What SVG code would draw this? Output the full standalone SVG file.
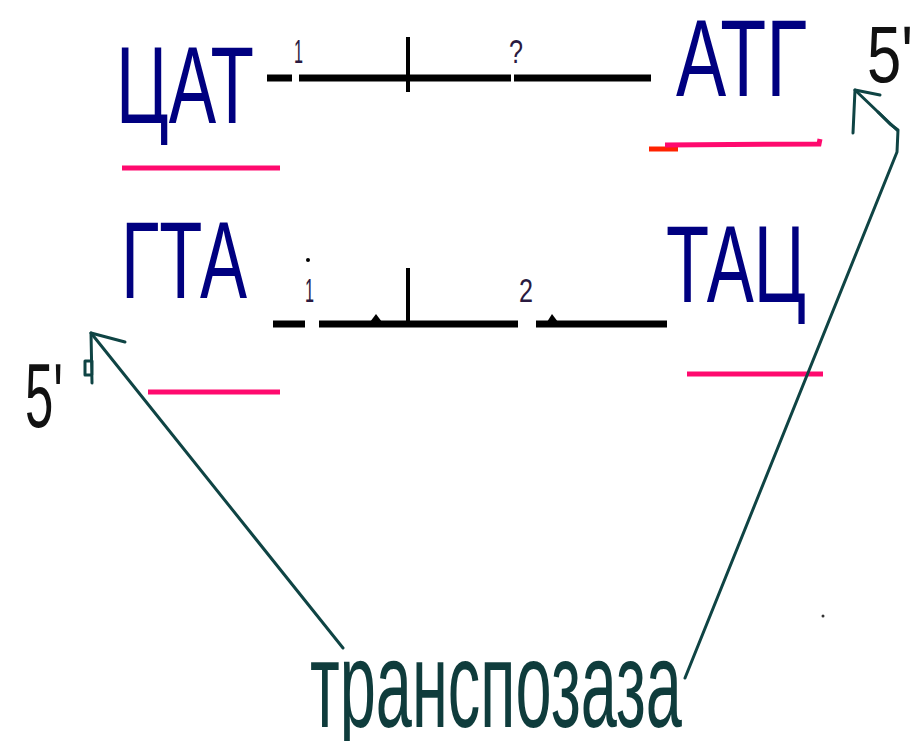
<svg xmlns="http://www.w3.org/2000/svg" width="915" height="741" viewBox="0 0 915 741">
<style>
.base{font-family:"Liberation Sans",Arial,sans-serif;fill:#000080}
.lbl{font-family:"Liberation Sans",Arial,sans-serif;fill:#2a1a40}
.blk{font-family:"Liberation Sans",Arial,sans-serif;fill:#111}
.dna{stroke:#000;stroke-width:7;fill:none}
.pink{stroke:#ff0a6e;stroke-width:5;fill:none}
.arr{stroke:#0f4444;stroke-width:3;fill:none;stroke-linejoin:round;stroke-linecap:round}
</style>
<rect width="915" height="741" fill="#fff"/>
<g id="top-strand">
<text class="base" x="116" y="123" font-size="109" textLength="138" lengthAdjust="spacingAndGlyphs">ЦАТ</text>
<line class="pink" x1="122" y1="168" x2="280" y2="168"/>
<text class="base" x="676" y="96" font-size="109" textLength="131" lengthAdjust="spacingAndGlyphs">АТГ</text>
<line x1="649" y1="149" x2="678" y2="149" stroke="#ff2200" stroke-width="5"/>
<path class="pink" d="M665 145 L819 144 L820 139"/>
<path class="dna" d="M267 78 H292 M299 78 H511 M514 78 H651"/>
<line x1="408" y1="37" x2="408" y2="92" stroke="#000" stroke-width="4"/>
<text class="lbl" x="294" y="63" font-size="34" textLength="9" lengthAdjust="spacingAndGlyphs">1</text>
<text class="lbl" x="509" y="63" font-size="34" textLength="14" lengthAdjust="spacingAndGlyphs">?</text>
</g>
<g id="bottom-strand">
<text class="base" x="121" y="298" font-size="109" textLength="126" lengthAdjust="spacingAndGlyphs">ГТА</text>
<line class="pink" x1="148" y1="392" x2="280" y2="392"/>
<text class="base" x="666" y="302" font-size="109" textLength="140" lengthAdjust="spacingAndGlyphs">ТАЦ</text>
<line class="pink" x1="687" y1="374" x2="823" y2="374"/>
<path class="dna" d="M273 324 H305 M319 324 H518 M536 324 H667"/>
<line x1="408" y1="268" x2="408" y2="324" stroke="#000" stroke-width="4"/>
<path d="M370 322 L376 314 L382 322 Z M547 322 L552 314 L558 322 Z" fill="#000"/>
<circle cx="308" cy="260" r="2" fill="#000"/>
<text class="lbl" x="305" y="302" font-size="34" textLength="9" lengthAdjust="spacingAndGlyphs">1</text>
<text class="lbl" x="519" y="302" font-size="34" textLength="14" lengthAdjust="spacingAndGlyphs">2</text>
</g>
<g id="five-prime">
<text class="blk" x="867" y="82" font-size="80" textLength="46" lengthAdjust="spacingAndGlyphs">5'</text>
<text class="blk" x="25" y="427" font-size="90" textLength="38" lengthAdjust="spacingAndGlyphs">5'</text>
</g>
<g id="connectors">
<path class="arr" d="M343 648 L91 333"/>
<path class="arr" d="M91 333 L125 342 M91 333 L92 383 M85 361 H92 V375 H85 Z"/>
<path class="arr" d="M685 678 L897 152 L898 130 L890 124 L878 112 L855 90"/>
<path class="arr" d="M855 90 L880 95 M855 90 L853 133 M878 112 L897 130"/>
<circle cx="823" cy="616" r="1.5" fill="#333"/>
</g>
<g id="enzyme">
<text x="310" y="727" font-family="Liberation Sans, Arial, sans-serif" font-size="122" fill="#0f3c3c" textLength="372" lengthAdjust="spacingAndGlyphs">транспозаза</text>
</g>
</svg>
